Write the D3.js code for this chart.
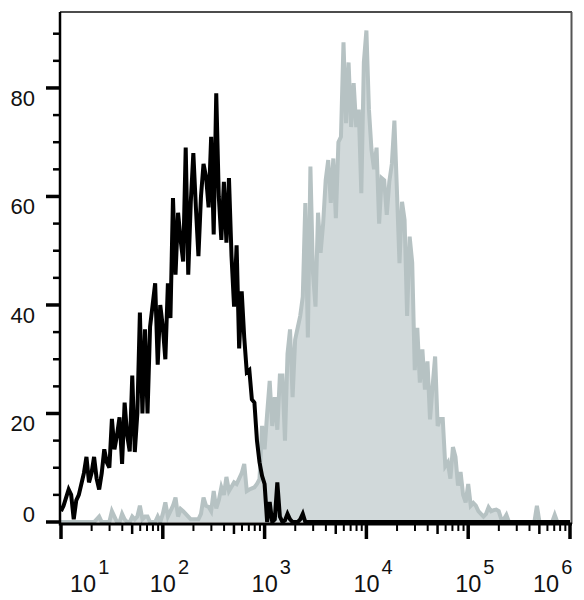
<!DOCTYPE html>
<html>
<head>
<meta charset="utf-8">
<script src="https://cdn.jsdelivr.net/npm/d3@7"></script>
<style>
  body { margin: 0; background: #fff; }
  text { font-family: "Liberation Sans", Arial, sans-serif; fill: #111; }
</style>
</head>
<body>
<div class="chart"></div>
<script>
// Data: histogram counts per channel, channels are 0.025 decades wide starting at 10^1
const binStep = 0.025;
const decades = [1, 2, 3, 4, 5, 6];
const yTicks = [0, 20, 40, 60, 80];

const unstained = [
  2, 3, 4.5, 6, 5, 0.5, 4, 5, 7, 9,
  12, 7.3, 9, 12, 8, 6, 9, 13.4, 11, 10,
  19, 13.4, 16, 19.3, 10.7, 22, 16, 13, 27, 12.9,
  20, 38.6, 20, 35.5, 20, 36, 40, 44, 29, 40,
  36, 30, 44, 37.6, 59.7, 45.6, 57, 52, 48, 69,
  45.6, 59, 68, 58, 49, 60, 66, 63.6, 58, 71,
  53, 79, 60, 52, 62.7, 51.5, 63.4, 49, 39.7, 51,
  32, 42.5, 34, 27.6, 28, 22.6, 22, 15, 11, 8.5,
  7, 0, 3.7, 0, 0.5, 7.3, 1, 0, 0.3, 1.5,
  0.5, 0, 0, 0, 0.5, 1.5, 0, 0, 0, 0,
  0, 0, 0, 0, 0, 0, 0, 0, 0, 0,
  0, 0, 0, 0, 0, 0, 0, 0, 0, 0,
  0, 0, 0, 0, 0, 0, 0, 0, 0, 0,
  0, 0, 0, 0, 0, 0, 0, 0, 0, 0,
  0, 0, 0, 0, 0, 0, 0, 0, 0, 0,
  0, 0, 0, 0, 0, 0, 0, 0, 0, 0,
  0, 0, 0, 0, 0, 0, 0, 0, 0, 0,
  0, 0, 0, 0, 0, 0, 0, 0, 0, 0,
  0, 0, 0, 0, 0, 0, 0, 0, 0, 0,
  0, 0, 0, 0, 0, 0, 0, 0, 0, 0,
  0
];

const stained = [
  0, 0, 0, 0, 0, 0, 0, 0, 0, 0,
  0, 0, 0, 0, 0.5, 1, 0, 0, 0, 0,
  2, 1, 0, 0, 1.5, 0.5, 0, 0, 1, 0.5,
  1, 3, 0.5, 1, 1, 0, 0, 0, 1, 0,
  1.5, 3.6, 1, 2, 3, 4.5, 1, 2.4, 2, 1.5,
  1, 0.5, 0.5, 0.5, 0.5, 1.5, 4.5, 3, 2.8, 2,
  5.7, 2.5, 4, 6.4, 5, 8.3, 5.7, 6.5, 7.3, 7,
  8, 9, 10.7, 5.7, 6, 6.2, 6.4, 7, 7.9, 17.7,
  13.4, 20, 26, 17.7, 23, 17, 27, 27, 15, 31,
  35.5, 23, 33.6, 35.8, 38, 41.5, 58.8, 34, 65.5, 46,
  39.7, 57, 49.6, 55, 63, 66.7, 58.8, 67, 56, 70,
  71, 88.4, 73.5, 84.7, 72.8, 80.9, 72.8, 76, 60.6, 84.7,
  90.6, 76, 68.6, 65, 69, 55, 63.4, 63, 56.6, 62.7,
  66, 74, 61, 47.7, 59, 55.7, 38, 52.6, 47.8, 28,
  35.8, 25.7, 31.8, 24.4, 29.6, 18.9, 25, 30.5, 17.7, 19,
  19, 10.3, 11, 8, 13.8, 12, 6.7, 9.2, 5, 3.6,
  7, 3, 3.5, 3, 2, 1.5, 1, 1.5, 2.7, 2,
  2.2, 2.3, 2, 0.5, 0.5, 1.3, 0, 0, 0, 0,
  0, 0, 0, 0, 0, 0, 0, 3, 0, 0,
  0, 0, 0, 0, 1.3, 0, 0, 0, 0, 0,
  0
];

// Dimensions
const width = 584, height = 600;
const plot = {left: 60, right: 572, top: 12, bottom: 524};

// Scales
const xScale = d3.scaleLog()
    .domain([10, 1e6])
    .range([61, 570]);
const yScale = d3.scaleLinear()
    .domain([0, 94])
    .range([522, plot.top]);

const channel = i => Math.pow(10, 1 + i * binStep);

// Generators
const areaGenerator = d3.area()
    .x((d, i) => xScale(channel(i)))
    .y0(yScale(0))
    .y1(d => yScale(d));
const lineGenerator = d3.line()
    .x((d, i) => xScale(channel(i)))
    .y(d => yScale(d));

// Append
const svg = d3.select(".chart").append("svg")
    .attr("width", width)
    .attr("height", height);

svg.append("clipPath").attr("id", "clip")
  .append("rect")
    .attr("x", plot.left)
    .attr("y", plot.top)
    .attr("width", plot.right - plot.left)
    .attr("height", plot.bottom - plot.top);

const g = svg.append("g").attr("clip-path", "url(#clip)");

g.append("path")
    .datum(stained)
    .attr("d", areaGenerator)
    .attr("fill", "#d1d9da");
g.append("path")
    .datum(stained)
    .attr("d", lineGenerator)
    .attr("fill", "none")
    .attr("stroke", "#b6c2c3")
    .attr("stroke-width", 4);
g.append("path")
    .datum(unstained)
    .attr("d", lineGenerator)
    .attr("fill", "none")
    .attr("stroke", "#000")
    .attr("stroke-width", 4);

// Frame (top and right)
svg.append("line")
    .attr("x1", plot.left).attr("x2", plot.right)
    .attr("y1", plot.top).attr("y2", plot.top)
    .attr("stroke", "#111").attr("stroke-width", 1.5);
svg.append("line")
    .attr("x1", plot.right - 0.5).attr("x2", plot.right - 0.5)
    .attr("y1", plot.top).attr("y2", plot.bottom)
    .attr("stroke", "#555").attr("stroke-width", 2);

// Y axis
const yAxis = svg.append("g").attr("class", "axis y");
yAxis.append("line")
    .attr("x1", plot.left).attr("x2", plot.left)
    .attr("y1", plot.top).attr("y2", plot.bottom + 1.5)
    .attr("stroke", "#000").attr("stroke-width", 2.5);
yAxis.selectAll(".tick")
    .data(d3.range(0, 95, 5))
  .enter().append("line")
    .attr("class", "tick")
    .attr("x1", d => d % 20 === 0 ? 46 : 53)
    .attr("x2", plot.left)
    .attr("y1", d => yScale(d))
    .attr("y2", d => yScale(d))
    .attr("stroke", "#000")
    .attr("stroke-width", d => d % 20 === 0 ? 3.5 : 2.5);
yAxis.selectAll(".label")
    .data(yTicks)
  .enter().append("text")
    .attr("class", "label")
    .attr("x", 35)
    .attr("y", d => d === 0 ? yScale(d) : yScale(d) + 18)
    .attr("text-anchor", "end")
    .style("font-size", "22px")
    .text(d => d);

// X axis
const xAxis = svg.append("g").attr("class", "axis x");
xAxis.append("line")
    .attr("x1", plot.left).attr("x2", plot.right)
    .attr("y1", plot.bottom).attr("y2", plot.bottom)
    .attr("stroke", "#000").attr("stroke-width", 3);

const xTickValues = [];
decades.slice(0, -1).forEach(d => {
  d3.range(1, 10).forEach(k => xTickValues.push({v: k * Math.pow(10, d), k}));
});
xTickValues.push({v: 1e6, k: 1});

xAxis.selectAll(".tick")
    .data(xTickValues)
  .enter().append("line")
    .attr("class", "tick")
    .attr("x1", d => xScale(d.v))
    .attr("x2", d => xScale(d.v))
    .attr("y1", plot.bottom)
    .attr("y2", d => d.k === 1 ? 539 : d.k === 5 ? 534 : 531)
    .attr("stroke", "#000")
    .attr("stroke-width", d => d.k === 1 ? 3.5 : d.k === 5 ? 2.5 : 2);

// edge labels get pushed inward so they stay under the plot
const nudge = d => d === decades[0] ? 22 : d === decades[decades.length - 1] ? -24 : 0;

const xLabels = xAxis.selectAll(".label")
    .data(decades)
  .enter().append("text")
    .attr("class", "label")
    .attr("x", d => xScale(Math.pow(10, d)) - 13 + nudge(d))
    .attr("y", 592)
    .style("font-size", "23.5px");
xLabels.append("tspan").text("10");
xLabels.append("tspan")
    .attr("dx", 2)
    .attr("dy", -18)
    .style("font-size", "20px")
    .text(d => d);
</script>
</body>
</html>
